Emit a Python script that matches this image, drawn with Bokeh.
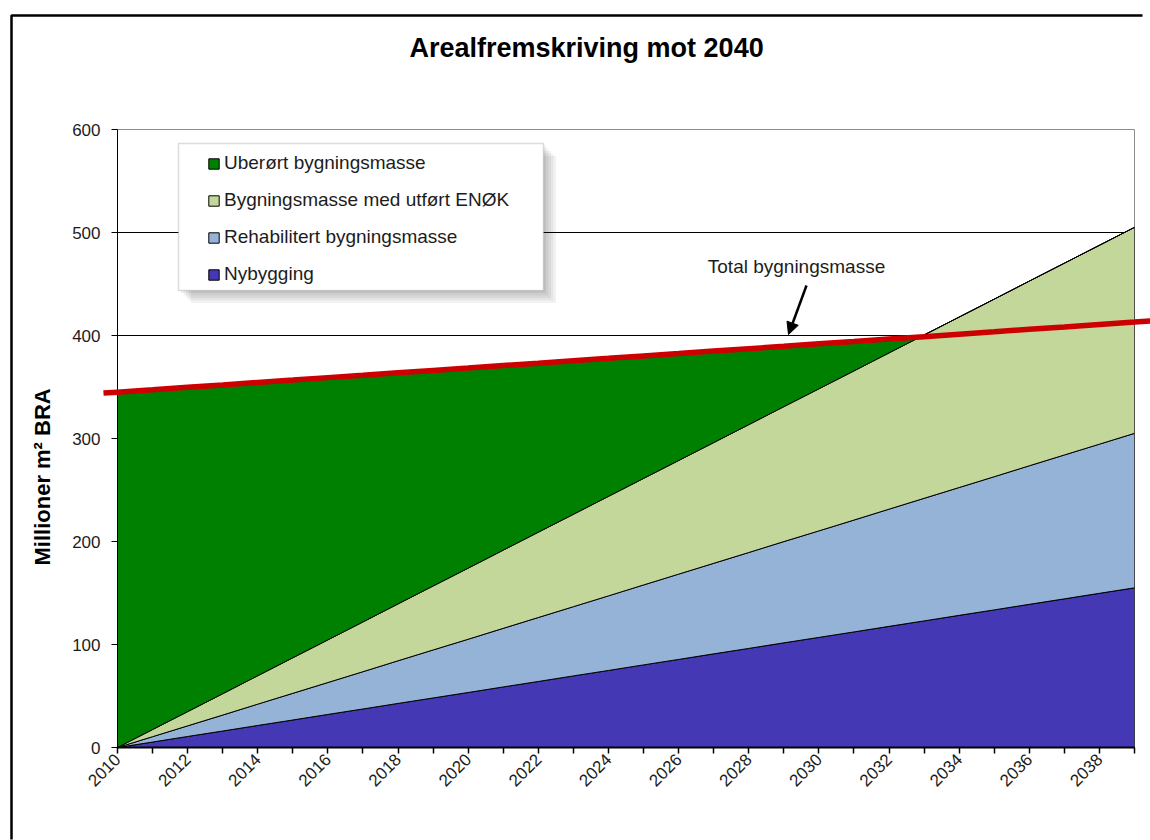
import math
from bokeh.plotting import figure
from bokeh.models import (Range1d, FixedTicker, Legend, LegendItem, Label, Arrow,
                          NormalHead, BoxAnnotation, Title, LinearAxis)
from bokeh.embed import file_html
from bokeh.resources import INLINE

# ---------------- data ----------------
years = list(range(2010, 2040))
nybygging = [0.0, 5.3, 10.7, 16.0, 21.4, 26.7, 32.1, 37.4, 42.8, 48.1, 53.4, 58.8, 64.1, 69.5, 74.8,
             80.2, 85.5, 90.9, 96.2, 101.6, 106.9, 112.2, 117.6, 122.9, 128.3, 133.6, 139.0, 144.3,
             149.7, 155.0]
rehabilitert = [0.0, 5.2, 10.3, 15.5, 20.7, 25.9, 31.0, 36.2, 41.4, 46.6, 51.7, 56.9, 62.1, 67.2,
                72.4, 77.6, 82.8, 87.9, 93.1, 98.3, 103.4, 108.6, 113.8, 119.0, 124.1, 129.3, 134.5,
                139.7, 144.8, 150.0]
enok = [0.0, 6.9, 13.8, 20.7, 27.6, 34.5, 41.4, 48.3, 55.2, 62.1, 69.0, 75.9, 82.8, 89.7, 96.6,
        103.4, 110.3, 117.2, 124.1, 131.0, 137.9, 144.8, 151.7, 158.6, 165.5, 172.4, 179.3, 186.2,
        193.1, 200.0]
uberort = [345.0, 329.9, 314.9, 299.8, 284.7, 269.6, 254.6, 239.5, 224.5, 209.4, 194.3, 179.2,
           164.1, 149.1, 134.0, 119.0, 103.9, 88.9, 73.7, 58.6, 43.6, 28.5, 13.5, 0.0, 0.0, 0.0,
           0.0, 0.0, 0.0, 0.0]
total = [345.0, 347.3, 349.7, 352.0, 354.4, 356.7, 359.1, 361.4, 363.8, 366.1, 368.4, 370.8, 373.1,
         375.5, 377.8, 380.2, 382.5, 384.9, 387.2, 389.5, 391.9, 394.2, 396.6, 398.9, 401.3, 403.6,
         406.0, 408.3, 410.7, 413.0]
y_ticks = [0, 100, 200, 300, 400, 500, 600]
x_tick_labels = {yr: (str(yr) if yr % 2 == 0 else "") for yr in years}

series_names = ["Nybygging", "Rehabilitert bygningsmasse",
                "Bygningsmasse med utført ENØK", "Uberørt bygningsmasse"]
series_values = [nybygging, rehabilitert, enok, uberort]
series_colors = ["#4438b4", "#95b3d7", "#c4d79b", "#008000"]

title_text = "Arealfremskriving mot 2040"
y_label = "Millioner m² BRA"
note_text = "Total bygningsmasse"

# ---------------- layout (page pixels of the plot frame) ----------------
W, H = 1150, 840
FL, FR, FT, FB = 117, 1134, 129, 747
X0, X1, Y0, Y1 = years[0], years[-1], 0, 600


def dx(px):
    return X0 + (px - FL) * (X1 - X0) / (FR - FL)


def dy(py):
    return Y0 + (FB - py) * (Y1 - Y0) / (FB - FT)


FONT = "Liberation Sans"
TXT = "#1c1c1c"

p = figure(width=W, height=H, x_range=Range1d(X0, X1), y_range=Range1d(Y0, Y1),
           output_backend="svg", toolbar_location=None,
           min_border_left=FL, min_border_right=W - FR,
           min_border_top=FT, min_border_bottom=H - FB)
p.background_fill_color = "white"
p.border_fill_color = "white"
p.outline_line_color = "#8c8c8c"
p.outline_line_width = 1

# invisible spacer axis above the frame, pushes the title up to its place
spacer = LinearAxis(ticker=FixedTicker(ticks=years), major_tick_out=62, major_tick_in=0,
                    minor_tick_out=0, minor_tick_in=0, axis_line_alpha=0,
                    major_tick_line_alpha=0, minor_tick_line_alpha=0,
                    major_label_text_alpha=0, major_label_standoff=0,
                    major_label_text_font_size="1px")
p.add_layout(spacer, "above")

# title
p.title.text = title_text
p.title.align = "left"
p.title.vertical_align = "bottom"
p.title.offset = 292
p.title.standoff = 10
p.title.text_font = FONT
p.title.text_font_style = "bold"
p.title.text_font_size = "27px"
p.title.text_color = "black"

# stacked areas
base = [0] * len(years)
rends = []
for vals, name, col in zip(series_values, series_names, series_colors):
    top = [b + v for b, v in zip(base, vals)]
    xs = years + years[::-1]
    ys = top + base[::-1]
    r = p.patch(xs, ys, fill_color=col, line_color="black", line_width=1)
    rends.append(r)
    base = top

# total line (extends a little past the frame, like the drawn shape in the original)
slope = (total[-1] - total[0]) / (years[-1] - years[0])
ext_l, ext_r = 0.4, 0.5
tx = [years[0] - ext_l] + years + [years[-1] + ext_r]
ty = [total[0] - slope * ext_l] + total + [total[-1] + slope * ext_r]
p.line(tx, ty, line_color="#cc0000", line_width=5.5, level="overlay")

# outer chart border (left and top edges visible in the crop), one polyline
p.line([dx(11), dx(11), dx(W - 8)], [dy(H - 1), dy(15), dy(15)],
       line_color="black", line_width=2.5, level="overlay")

# axes
xa = p.below[0]
xa.ticker = FixedTicker(ticks=years)
xa.major_label_overrides = x_tick_labels
xa.major_label_orientation = math.pi / 4
xa.major_tick_out = 6
xa.major_tick_in = 0
xa.minor_tick_out = 0
xa.minor_tick_in = 0
xa.axis_line_color = "black"
xa.axis_line_width = 2
xa.major_tick_line_color = "black"
xa.major_tick_line_width = 1.5
xa.major_label_standoff = 3
xa.major_label_text_font = FONT
xa.major_label_text_font_size = "17px"
xa.major_label_text_color = TXT

ya = p.left[0]
ya.ticker = FixedTicker(ticks=y_ticks)
ya.major_tick_out = 6
ya.major_tick_in = 0
ya.minor_tick_out = 0
ya.minor_tick_in = 0
ya.axis_line_color = "black"
ya.axis_line_width = 1
ya.major_tick_line_color = "black"
ya.major_label_standoff = 11
ya.major_label_text_font = FONT
ya.major_label_text_font_size = "17px"
ya.major_label_text_color = TXT

# y-axis title (placed like the original, below the frame's centre)
p.add_layout(Title(text=y_label, align="left", offset=182, standoff=30,
                   text_font=FONT, text_font_style="bold", text_font_size="22px",
                   text_color="black"), "left")

p.xgrid.visible = False
p.ygrid.ticker = FixedTicker(ticks=y_ticks[1:-1])
p.ygrid.grid_line_color = "black"
p.ygrid.grid_line_width = 1

# legend box with soft shadow
for k in range(1, 6):
    off = 2.5 * k
    p.add_layout(BoxAnnotation(left=dx(178 + off), right=dx(543 + off),
                               top=dy(143 + off), bottom=dy(290 + off),
                               fill_color="black", fill_alpha=0.05, line_alpha=0))
p.add_layout(BoxAnnotation(left=dx(178), right=dx(543), top=dy(143), bottom=dy(290),
                           fill_color="white", fill_alpha=1, line_color="#8c8c8c",
                           line_width=1.5))

order = [3, 2, 1, 0]
legend = Legend(items=[LegendItem(label=series_names[i], renderers=[rends[i]]) for i in order],
                location=(90, 462), orientation="vertical",
                background_fill_alpha=0, border_line_alpha=0, padding=0, margin=0,
                spacing=15, glyph_width=13, glyph_height=13, label_standoff=4,
                label_height=13, label_text_font=FONT, label_text_font_size="19px",
                label_text_color=TXT)
p.add_layout(legend)

# annotation
p.add_layout(Label(x=dx(796), y=dy(266), text=note_text, text_align="center",
                   text_baseline="middle", text_font=FONT, text_font_size="19px",
                   text_color=TXT))
p.add_layout(Arrow(end=NormalHead(size=12, fill_color="black", line_color="black"),
                   x_start=dx(806), y_start=dy(285), x_end=dx(788), y_end=dy(334),
                   line_color="black", line_width=2.5))

open("out.html", "w").write(file_html(p, INLINE))
